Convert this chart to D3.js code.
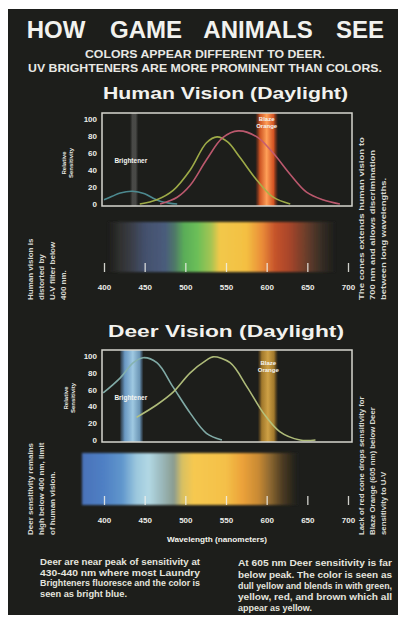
<!DOCTYPE html>
<html><head><meta charset="utf-8">
<script src="https://cdn.jsdelivr.net/npm/d3@7"></script>
<style>html,body{margin:0;padding:0;background:#fff;} svg{display:block;font-family:"Liberation Sans",Arial,Helvetica,sans-serif;}</style>
</head><body><svg id="c" width="408" height="618"></svg>
<script>
// ---------- data ----------
const wavelengthTicks = [400, 450, 500, 550, 600, 650, 700];
const sensitivityTicks = [0, 20, 40, 60, 80, 100];

const humanBlueNm  = [400, 410, 420, 435, 450, 460, 470, 480, 490];
const humanBlueVal = [5, 9, 13, 15, 12, 7, 3, 1, 0];
const humanGreenNm  = [444, 465, 485, 506, 526, 539, 552, 567, 588, 608, 629];
const humanGreenVal = [0, 5, 16, 40, 72, 79, 73, 55, 28, 8, 0];
const humanRedNm  = [469, 490, 506, 526, 546, 565, 588, 608, 628, 649, 669, 690];
const humanRedVal = [0, 8, 22, 52, 78, 86, 79, 60, 36, 14, 5, 0];

const deerBlueNm  = [399, 420, 436, 448, 465, 485, 506, 526, 545];
const deerBlueVal = [56, 74, 92, 98, 92, 63, 32, 8, 0];
const deerGreenNm  = [440, 465, 485, 506, 526, 534, 555, 576, 596, 616, 641, 660];
const deerGreenVal = [27, 42, 57, 80, 95, 99, 92, 63, 32, 10, 0, 0];

const brightenerNm = [432, 442];
const deerBrightenerNm = [420, 448];
const blazeOrangeNm = [586, 614];
const deerBlazeNm = [589, 614];

const humanSpectrumNm = [405, 418, 432, 450, 475, 487, 498, 515, 532, 542, 575, 595, 610, 628, 648, 666, 684];
const humanSpectrumColor = ["#1c1d1a", "#2e2f2e", "#393c44", "#43506c", "#4a5c7c", "#4f7868", "#5aac58", "#6cbf58", "#a6c452", "#f2c84a", "#f4c042", "#e98a38", "#c6542c", "#a8452c", "#6c3e2c", "#3a2f26", "#1c1d1a"];
const deerSpectrumNm = [373, 400, 422, 440, 455, 470, 486, 496, 510, 550, 570, 590, 605, 620, 638];
const deerSpectrumColor = ["#4a72ba", "#4f80c4", "#6096cc", "#9cc8de", "#b2d8e4", "#9cbabe", "#8a9c90", "#d8c062", "#f6c850", "#f4c048", "#eca23a", "#c88a34", "#8a6630", "#4a3a22", "#1c1d1a"];

const humanLeftNote = ["Human vision is", "distorted by", "U-V filter below", "400 nm."];
const humanRightNote = ["The cones extends human vision to", "700 nm and allows discrimination", "between long wavelengths."];
const deerLeftNote = ["Deer sensitivity remains", "high below 400 nm, limit", "of human vision."];
const deerRightNote = ["Lack of red cone drops sensitivity for", "Blaze Orange (605 nm) below Deer", "sensitivity to U-V"];
const leftParagraph = ["Deer are near peak of sensitivity at", "430-440 nm where most Laundry", "Brighteners fluoresce and the color is", "seen as bright blue."];
const rightParagraph = ["At 605 nm Deer sensitivity is far", "below peak. The color is seen as", "dull yellow and blends in with green,", "yellow, red, and brown which all", "appear as yellow."];

// ---------- drawing ----------
const svg = d3.select("#c");
const defs = svg.append("defs");
const BG = "#1d1e1b";
svg.append("rect").attr("x", 8).attr("y", 9).attr("width", 390).attr("height", 606).attr("fill", BG);

defs.append("filter").attr("id", "soft").attr("x", "-5%").attr("y", "-20%").attr("width", "110%").attr("height", "140%")
  .append("feGaussianBlur").attr("stdDeviation", 1.2);

const x = d3.scaleLinear().domain([400, 700]).range([104, 348]);

// Title
const titleWords = [["HOW", 56], ["GAME", 146], ["ANIMALS", 258], ["SEE", 360]];
titleWords.forEach(([w, cx]) => svg.append("text").attr("x", cx).attr("y", 38).attr("text-anchor", "middle")
  .attr("font-size", 24).attr("font-weight", "bold").attr("fill", "#f2f2ee").text(w));
svg.append("text").attr("x", 85).attr("y", 58).attr("textLength", 240).attr("lengthAdjust", "spacingAndGlyphs")
  .attr("font-size", 11).attr("font-weight", "bold").attr("fill", "#e8e8e4").text("COLORS APPEAR DIFFERENT TO DEER.");
svg.append("text").attr("x", 28).attr("y", 72).attr("textLength", 354).attr("lengthAdjust", "spacingAndGlyphs")
  .attr("font-size", 11).attr("font-weight", "bold").attr("fill", "#e8e8e4").text("UV BRIGHTENERS ARE MORE PROMINENT THAN COLORS.");

function gradient(id, nms, colors, x0, x1) {
  const g = defs.append("linearGradient").attr("id", id).attr("gradientUnits", "userSpaceOnUse")
    .attr("x1", x0).attr("x2", x1).attr("y1", 0).attr("y2", 0);
  nms.forEach((nm, i) => g.append("stop").attr("offset", (x(nm) - x0) / (x1 - x0)).attr("stop-color", colors[i]));
}
function band(id, stops) {
  const g = defs.append("linearGradient").attr("id", id).attr("x1", 0).attr("x2", 1).attr("y1", 0).attr("y2", 0);
  stops.forEach(s => g.append("stop").attr("offset", s[0]).attr("stop-color", s[1]).attr("stop-opacity", s[2]));
}
band("hBright", [[0, "#8a8a88", 0], [0.3, "#8a8a88", 0.4], [0.7, "#8a8a88", 0.4], [1, "#8a8a88", 0]]);
band("hBlaze", [[0, "#b03a18", 0], [0.2, "#e05a24", 0.9], [0.5, "#ffa058", 1], [0.8, "#e85a24", 0.9], [1, "#b03a18", 0]]);
band("dBright", [[0, "#6aa0d8", 0.2], [0.2, "#78aee0", 0.85], [0.55, "#a6d2ec", 0.95], [0.85, "#80b4dc", 0.8], [1, "#6aa0d8", 0.1]]);
band("dBlaze", [[0, "#8a6020", 0], [0.2, "#b8882e", 0.85], [0.5, "#d8a848", 0.95], [0.8, "#b8882e", 0.85], [1, "#8a6020", 0]]);

function chart(o) {
  const y = d3.scaleLinear().domain([0, 100]).range([o.y0, o.y100]);
  const g = svg.append("g");
  svg.append("text").attr("x", o.titleX).attr("y", o.titleY).attr("textLength", o.titleW).attr("lengthAdjust", "spacingAndGlyphs")
    .attr("font-size", 17).attr("font-weight", "bold").attr("fill", "#f2f2ee").text(o.title);
  g.append("rect").attr("x", x(o.bright[0])).attr("width", x(o.bright[1]) - x(o.bright[0]))
    .attr("y", o.frameTop).attr("height", o.frameBot - o.frameTop).attr("fill", `url(#${o.brightFill})`);
  g.append("rect").attr("x", x(o.blaze[0])).attr("width", x(o.blaze[1]) - x(o.blaze[0]))
    .attr("y", o.frameTop).attr("height", o.frameBot - o.frameTop).attr("fill", `url(#${o.blazeFill})`);
  const line = d3.line().x(d => x(d[0])).y(d => y(d[1])).curve(d3.curveCatmullRom.alpha(0.5));
  o.curves.forEach(c => {
    g.append("path").attr("d", line(c.nm.map((n, i) => [n, c.val[i]]))).attr("fill", "none")
      .attr("stroke", c.color).attr("stroke-width", 1.6).attr("stroke-opacity", 0.95);
  });
  g.append("rect").attr("x", 102).attr("y", o.frameTop).attr("width", 250).attr("height", o.frameBot - o.frameTop)
    .attr("fill", "none").attr("stroke", "#d6d6cf").attr("stroke-width", 1.5);
  const ya = g.append("g").attr("transform", "translate(98,0)")
    .call(d3.axisLeft(y).tickValues(sensitivityTicks).tickSize(0).tickPadding(1));
  ya.select(".domain").remove();
  ya.selectAll("text").attr("fill", "#ecece8").attr("font-size", 8).attr("font-weight", "bold").attr("font-family", "Liberation Sans, Arial, sans-serif");
  const yl = svg.append("text").attr("transform", `translate(${o.ylabX},${o.ylabY}) rotate(-90)`).attr("text-anchor", "middle")
    .attr("font-size", 6).attr("font-weight", "bold").attr("fill", "#e8e8e4");
  yl.append("tspan").attr("x", 0).attr("dy", 0).text("Relative");
  yl.append("tspan").attr("x", 0).attr("dy", 7).text("Sensitivity");
  const bl = svg.append("text").attr("x", x(o.blazeLabel)).attr("y", o.blazeLabY).attr("text-anchor", "middle")
    .attr("font-size", 6).attr("font-weight", "bold").attr("fill", "#f4f4f0");
  bl.append("tspan").attr("x", x(o.blazeLabel)).text("Blaze");
  bl.append("tspan").attr("x", x(o.blazeLabel)).attr("dy", 7).text("Orange");
  svg.append("text").attr("x", x(o.brightLabel)).attr("y", o.brightLabY).attr("text-anchor", "middle")
    .attr("font-size", 6.5).attr("font-weight", "bold").attr("fill", "#f4f4f0").text("Brightener");
  const sx0 = x(o.specNm[0]), sx1 = x(o.specNm[o.specNm.length - 1]);
  gradient(o.specId, o.specNm, o.specColor, sx0, sx1);
  svg.append("rect").attr("x", sx0).attr("width", sx1 - sx0).attr("y", o.specTop).attr("height", o.specBot - o.specTop)
    .attr("fill", `url(#${o.specId})`).attr("filter", "url(#soft)");
  const xa = svg.append("g").attr("transform", `translate(0,${o.specBot})`)
    .call(d3.axisBottom(x).tickValues(wavelengthTicks).tickSizeInner(-9).tickSizeOuter(0).tickPadding(12));
  xa.select(".domain").remove();
  xa.selectAll("line").attr("stroke", "#f0f0ea").attr("stroke-width", 1.3).attr("stroke-opacity", 0.85);
  xa.selectAll("text").attr("fill", "#ecece8").attr("font-size", 8).attr("font-weight", "bold").attr("font-family", "Liberation Sans, Arial, sans-serif");
}

chart({
  title: "Human Vision (Daylight)", titleX: 103, titleY: 99, titleW: 245,
  y0: 204, y100: 119, frameTop: 113, frameBot: 206,
  bright: brightenerNm, brightFill: "hBright", blaze: blazeOrangeNm, blazeFill: "hBlaze",
  curves: [
    {nm: humanBlueNm, val: humanBlueVal, color: "#4f8f96"},
    {nm: humanGreenNm, val: humanGreenVal, color: "#a4b24a"},
    {nm: humanRedNm, val: humanRedVal, color: "#c45c72"}
  ],
  ylabX: 66, ylabY: 163, blazeLabel: 600, blazeLabY: 121, brightLabel: 433, brightLabY: 163,
  specId: "hSpec", specNm: humanSpectrumNm, specColor: humanSpectrumColor, specTop: 222, specBot: 272
});
chart({
  title: "Deer Vision (Daylight)", titleX: 108, titleY: 337, titleW: 236,
  y0: 440, y100: 356, frameTop: 350, frameBot: 442,
  bright: deerBrightenerNm, brightFill: "dBright", blaze: deerBlazeNm, blazeFill: "dBlaze",
  curves: [
    {nm: deerBlueNm, val: deerBlueVal, color: "#86b2ae"},
    {nm: deerGreenNm, val: deerGreenVal, color: "#b6c47e"}
  ],
  ylabX: 68, ylabY: 398, blazeLabel: 602, blazeLabY: 365, brightLabel: 433, brightLabY: 400,
  specId: "dSpec", specNm: deerSpectrumNm, specColor: deerSpectrumColor, specTop: 453, specBot: 505
});

// side notes (rotated, reading bottom to top)
function note(lines, x0, yBottom, step, size, lens) {
  lines.forEach((t, i) => {
    const tx = svg.append("text").attr("transform", `translate(${x0 + i * step},${yBottom}) rotate(-90)`)
      .attr("font-size", size).attr("font-weight", "bold").attr("fill", "#d8d8d2").text(t);
    if (lens) tx.attr("textLength", lens[i]).attr("lengthAdjust", "spacingAndGlyphs");
  });
}
note(humanLeftNote, 33, 300, 11, 8);
note(humanRightNote, 364, 300, 11, 8, [163, 150, 122]);
note(deerLeftNote, 33, 535, 11, 8);
note(deerRightNote, 364, 535, 11, 7.8);

svg.append("text").attr("x", 167).attr("y", 542).attr("textLength", 100).attr("lengthAdjust", "spacingAndGlyphs")
  .attr("font-size", 8).attr("font-weight", "bold").attr("fill", "#f4f4ee").text("Wavelength (nanometers)");

// justified paragraphs (condensed face imitated by fitting each line to the column)
function para(lines, x0, w, lastW, ys) {
  lines.forEach((t, i) => {
    svg.append("text").attr("x", x0).attr("y", ys[i]).attr("font-size", 8.8).attr("font-weight", "bold")
      .attr("fill", "#e4e4de").attr("textLength", i < lines.length - 1 ? w : lastW)
      .attr("lengthAdjust", "spacingAndGlyphs").text(t);
  });
}
para(leftParagraph, 40, 160, 87, [565, 576, 586, 597]);
para(rightParagraph, 238, 154, 74, [566, 578, 589, 600, 611]);
</script></body></html>
